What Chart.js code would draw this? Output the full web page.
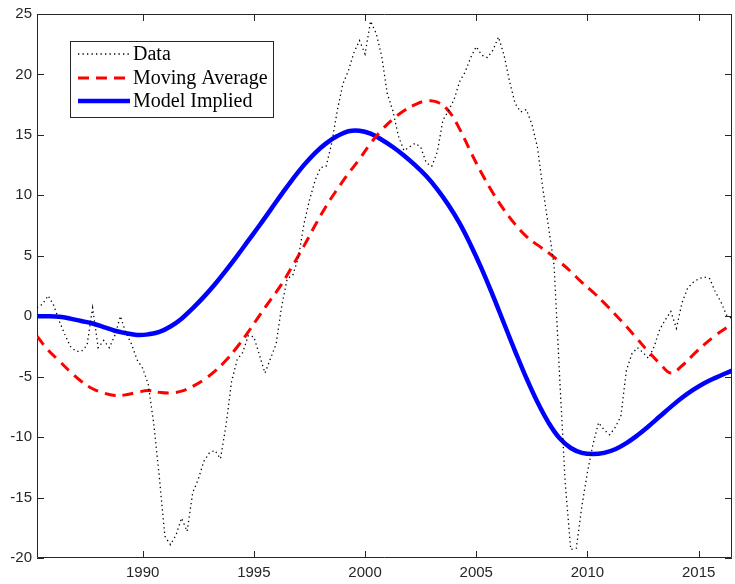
<!DOCTYPE html>
<html>
<head>
<meta charset="utf-8">
<script src="https://cdn.jsdelivr.net/npm/chart.js@4/dist/chart.umd.min.js"></script>
<style>
  html, body { margin: 0; padding: 0; background: #fff; }
  #chart { display: block; }
</style>
</head>
<body>
<canvas id="chart" width="735" height="584"></canvas>
<script>
// quarterly data, 1985.25 .. 2016.5
const dataValues = [
  0.7, 1.0, 1.7,
  0.9, -0.4, -1.5, -2.5,
  -2.9, -2.9, -2.4, 0.7,
  -2.6, -2.0, -2.6, -1.6,
  0.0, -1.4, -2.3, -3.6,
  -4.3, -5.6, -8.9, -13.3,
  -18.2, -18.9, -18.1, -16.7,
  -17.8, -14.6, -13.5, -12.0,
  -11.3, -11.1, -11.8, -9.0,
  -5.4, -3.6, -3.0, -1.6,
  -1.7, -3.2, -4.7, -3.5,
  -2.3, 0.8, 3.1, 3.4,
  4.8, 7.6, 9.6, 11.2,
  12.3, 12.4, 14.3, 17.0,
  19.2, 20.3, 21.8, 22.8,
  21.7, 24.4, 23.4, 21.5,
  18.4, 17.0, 14.9, 13.7,
  14.0, 14.3, 14.0, 12.7,
  12.4, 13.6, 16.2, 17.0,
  17.9, 19.4, 20.2, 21.4,
  22.3, 21.6, 21.4, 22.0,
  23.1, 21.6, 19.4, 17.6,
  16.9, 17.1, 15.9, 14.0,
  10.5, 7.4, 4.2, -5.0,
  -13.8, -19.3, -19.2, -15.7,
  -12.9, -10.6, -8.8, -9.4,
  -9.8, -9.2, -8.3, -4.5,
  -3.1, -2.6, -3.0, -3.5,
  -2.5, -1.1, -0.3, 0.4,
  -1.0, 1.1, 2.3, 2.8,
  3.1, 3.25, 3.1, 2.0,
  1.2, 0.1, -0.2
];

// half-yearly points for the two smooth lines, 1985.25 .. 2016.25, plus 2016.5
const movingAverage = [
  -1.65, -2.8, -3.7, -4.6, -5.4, -6.0, -6.35, -6.55, -6.5, -6.3,
  -6.15, -6.3, -6.35, -6.2, -5.8, -5.25, -4.55, -3.65, -2.55, -1.3,
  0.05, 1.35, 2.65, 4.2, 5.8, 7.5, 9.1, 10.5, 11.8, 13.0,
  14.3, 15.4, 16.3, 17.0, 17.5, 17.8, 17.7, 17.0, 15.5, 13.6,
  11.8, 10.2, 8.8, 7.6, 6.6, 5.9, 5.25, 4.5, 3.7, 2.8,
  2.0, 1.1, 0.15, -0.85, -1.9, -2.95, -3.9, -4.7, -4.1, -3.2,
  -2.35, -1.6, -0.95, -0.6
];

const modelImplied = [
  0.0, 0.0, -0.05, -0.2, -0.4, -0.6, -0.9, -1.2, -1.4, -1.55,
  -1.5, -1.3, -0.85, -0.2, 0.65, 1.6, 2.65, 3.8, 5.0, 6.25,
  7.5, 8.8, 10.1, 11.35, 12.5, 13.5, 14.3, 14.9, 15.3, 15.35,
  15.1, 14.6, 14.0, 13.3, 12.5, 11.6, 10.5, 9.2, 7.7, 5.9,
  3.9, 1.7, -0.6, -2.9, -5.1, -7.1, -8.8, -10.1, -10.9, -11.3,
  -11.4, -11.3, -11.0, -10.5, -9.85, -9.1, -8.3, -7.5, -6.75, -6.1,
  -5.55, -5.1, -4.7, -4.5
];

const xTicks = [1990, 1995, 2000, 2005, 2010, 2015];
const yTicks = [-20, -15, -10, -5, 0, 5, 10, 15, 20, 25];
const seriesNames = ['Data', 'Moving Average', 'Model Implied'];

const quarterYears = dataValues.map((v, i) => 1985.25 + i * 0.25);
const halfYears = movingAverage.map((v, i) => Math.min(1985.25 + i * 0.5, 2016.5));

const toPoints = (xs, ys) => ys.map((y, i) => ({ x: xs[i], y: y }));

const axisColor = '#262626';
const tickFont = { family: '"Liberation Sans", Arial, sans-serif', size: 15 };

// MATLAB-like box with inward ticks
const boxAxes = {
  id: 'boxAxes',
  beforeDatasetsDraw(chart) {
    const ctx = chart.ctx;
    const a = chart.chartArea;
    const xs = chart.scales.x, ys = chart.scales.y;
    const len = 7;
    ctx.save();
    ctx.strokeStyle = axisColor;
    ctx.lineWidth = 1;
    ctx.beginPath();
    ctx.rect(a.left + 0.5, a.top + 0.5, a.right - a.left - 1, a.bottom - a.top - 1);
    xTicks.forEach(v => {
      const px = Math.round(xs.getPixelForValue(v)) + 0.5;
      ctx.moveTo(px, a.bottom); ctx.lineTo(px, a.bottom - len);
      ctx.moveTo(px, a.top); ctx.lineTo(px, a.top + len);
    });
    yTicks.forEach(v => {
      const py = Math.round(ys.getPixelForValue(v)) + 0.5;
      ctx.moveTo(a.left, py); ctx.lineTo(a.left + len, py);
      ctx.moveTo(a.right, py); ctx.lineTo(a.right - len, py);
    });
    ctx.stroke();
    ctx.restore();
  }
};

// legend box in the upper left, drawn from the dataset styles
const boxLegend = {
  id: 'boxLegend',
  afterDraw(chart) {
    const ctx = chart.ctx;
    const left = 70, top = 41, w = 203, h = 76;
    const rows = [54, 78, 101];
    ctx.save();
    ctx.fillStyle = '#fff';
    ctx.fillRect(left, top, w, h);
    ctx.strokeStyle = axisColor;
    ctx.lineWidth = 1;
    ctx.strokeRect(left + 0.5, top + 0.5, w, h);
    chart.data.datasets.forEach((ds, i) => {
      const y = rows[i];
      ctx.beginPath();
      ctx.strokeStyle = ds.borderColor;
      ctx.lineWidth = ds.borderWidth;
      ctx.setLineDash(ds.borderDash || []);
      ctx.moveTo(78, y);
      ctx.lineTo(130, y);
      ctx.stroke();
      ctx.setLineDash([]);
      ctx.fillStyle = '#000';
      ctx.font = '20px "Liberation Serif", "Times New Roman", serif';
      ctx.textBaseline = 'middle';
      ctx.fillText(ds.label, 133, y + 1);
    });
    ctx.restore();
  }
};

new Chart(document.getElementById('chart'), {
  type: 'line',
  data: {
    datasets: [
      {
        label: seriesNames[0],
        data: toPoints(quarterYears, dataValues),
        borderColor: '#000',
        borderWidth: 1.3,
        borderDash: [1.3, 3.2],
        pointRadius: 0,
        tension: 0,
        fill: false
      },
      {
        label: seriesNames[1],
        data: toPoints(halfYears, movingAverage),
        borderColor: '#ff0000',
        borderWidth: 3,
        borderDash: [11, 7],
        pointRadius: 0,
        tension: 0.4,
        fill: false
      },
      {
        label: seriesNames[2],
        data: toPoints(halfYears, modelImplied),
        borderColor: '#0000ff',
        borderWidth: 4.5,
        pointRadius: 0,
        tension: 0.4,
        fill: false
      }
    ]
  },
  options: {
    responsive: false,
    animation: false,
    devicePixelRatio: 1,
    layout: { padding: { top: 10, right: 3, left: 0, bottom: 0 } },
    scales: {
      x: {
        type: 'linear',
        min: 1985.25,
        max: 2016.5,
        afterBuildTicks: s => { s.ticks = xTicks.map(v => ({ value: v })); },
        afterFit: s => { s.height = 26; },
        grid: { display: false, drawTicks: false },
        border: { display: false },
        ticks: {
          color: axisColor,
          font: tickFont,
          padding: 6,
          maxRotation: 0,
          autoSkip: false,
          callback: v => String(v)
        }
      },
      y: {
        min: -20,
        max: 25,
        afterBuildTicks: s => { s.ticks = yTicks.map(v => ({ value: v })); },
        afterFit: s => { s.width = 37; },
        grid: { display: false, drawTicks: false },
        border: { display: false },
        ticks: {
          color: axisColor,
          font: tickFont,
          padding: 5,
          callback: v => String(v)
        }
      }
    },
    plugins: {
      legend: { display: false },
      tooltip: { enabled: false }
    }
  },
  plugins: [boxAxes, boxLegend]
});
</script>
</body>
</html>
